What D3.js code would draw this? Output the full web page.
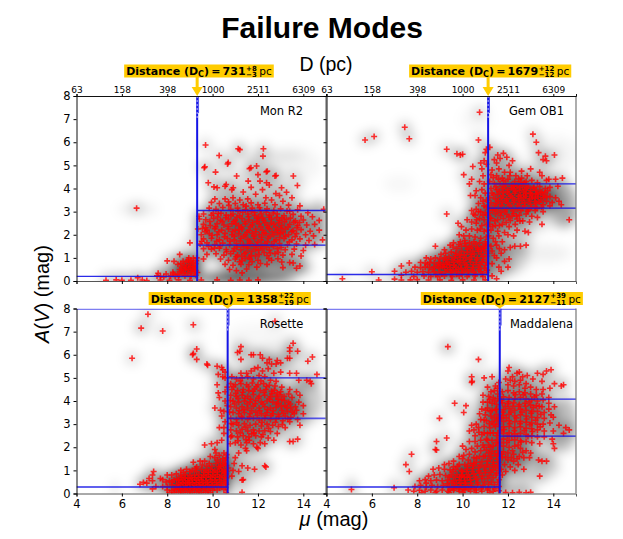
<!DOCTYPE html>
<html>
<head>
<meta charset="utf-8">
<script src="https://d3js.org/d3.v7.min.js"></script>
<style>
body { margin: 0; background: #fff; }
svg text { font-family: "DejaVu Sans", sans-serif; fill: #000; }
.big { font-family: "Liberation Sans", sans-serif !important; }
</style>
</head>
<body>
<div id="chart"></div>
<script>
var regions = ["Mon R2", "Gem OB1", "Rosette", "Maddalena"];
var distances = [731, 1679, 1358, 2127];
var errUp = ["+8", "+12", "+22", "+39"];
var errDown = ["\u22123", "\u221212", "\u221219", "\u221211"];
var leftLevels = [0.2, 0.28, 0.28, 0.28];
var rightLow = [1.55, 3.15, 3.25, 2.48];
var rightHigh = [3.05, 4.2, 5.0, 4.08];
var muTicks = [4, 6, 8, 10, 12, 14];
var muLabels = ["4", "6", "8", "10", "12", "14"];
var distLabels = ["63", "158", "398", "1000", "2511", "6309"];
var avTicks = [0, 1, 2, 3, 4, 5, 6, 7, 8];

var monR2 = [[6.65,3.15],[9.4,2.8],[9.42,2.68],[9.35,2.25],[9.55,2.27],[9.7,2.3],[9.0,1.65],[8.55,1.15],[8.0,.87],[8.3,.85],
[9.69,5.88],[10.29,5.43],[10.69,5.12],[10.66,5.06],[11.13,5.72],[11.2,5.68],[12.24,5.72],[12.22,5.4],[9.66,4.94],[9.63,4.9],[10.13,4.71],[11.69,4.9],[11.63,4.86],[11.94,4.97],[12.41,4.75],[12.37,4.72],[12.0,4.6],[11.06,4.54],[9.81,4.25],[12.75,4.54],[12.8,4.56],[13.56,4.54],[10.6,4.17],[10.55,4.1],[10.06,4.07],[10.2,4.03],[10.91,4.03],[10.85,3.95],[11.57,4.32],[12.09,4.32],[12.38,4.25],[12.5,4.15],[13.04,4.03],[13.74,4.13],[13.26,3.84],[12.79,3.78],[12.95,3.7],[11.7,4.05],[12.2,3.95],[11.35,3.85],[
11.9,3.75],[10.9,3.6],[10.1,3.55],[10.55,3.55],[11.2,3.5],[11.55,3.55],[12.35,3.6],[12.6,3.5],[13.5,3.6],[13.1,3.45],[
9.95,3.4],[10.3,3.35],[10.7,3.42],[11.0,3.35],[11.35,3.3],[11.7,3.38],[12.0,3.3],[12.3,3.36],[12.75,3.3],[13.35,3.28],[13.85,3.25],[
9.85,3.15],[10.15,3.1],[10.45,3.18],[10.8,3.1],[11.1,3.15],[11.45,3.08],[11.75,3.15],[12.1,3.05],[12.4,3.12],[12.7,3.05],[13.0,3.12],[13.4,3.02],[13.75,3.08],[14.2,2.95],[14.9,3.1],[
9.6,2.9],[9.95,2.85],[10.25,2.92],[10.6,2.85],[10.9,2.9],[11.2,2.82],[11.55,2.9],[11.85,2.84],[12.15,2.9],[12.5,2.85],[12.85,2.9],[13.15,2.82],[13.55,2.88],[13.9,2.8],[14.4,2.78],[
9.7,2.65],[10.05,2.7],[10.35,2.62],[10.7,2.68],[11.0,2.62],[11.3,2.7],[11.6,2.64],[11.95,2.7],[12.25,2.62],[12.6,2.68],[12.95,2.62],[13.25,2.66],[13.65,2.6],[14.0,2.64],[14.7,2.62],[
9.6,2.45],[9.9,2.4],[10.2,2.48],[10.5,2.42],[10.85,2.47],[11.15,2.4],[11.45,2.47],[11.75,2.42],[12.05,2.48],[12.4,2.41],[12.7,2.46],[13.05,2.4],[13.4,2.45],[13.75,2.4],[14.15,2.42],[14.5,2.45],[
9.75,2.2],[10.1,2.26],[10.4,2.2],[10.7,2.25],[11.0,2.2],[11.3,2.25],[11.6,2.19],[11.9,2.25],[12.2,2.2],[12.5,2.26],[12.85,2.2],[13.2,2.25],[13.55,2.18],[13.9,2.22],[14.3,2.15],[14.7,2.2],[
9.5,2.0],[9.85,2.05],[10.2,2.0],[10.55,2.06],[10.85,2.0],[11.15,2.05],[11.45,2.0],[11.75,2.06],[12.05,2.0],[12.35,2.05],[12.7,2.0],[13.0,2.05],[13.35,2.0],[13.7,2.05],[14.1,2.0],[14.45,1.95],[14.85,1.78],[
9.6,1.82],[9.95,1.85],[10.3,1.78],[10.65,1.84],[10.95,1.78],[11.25,1.85],[11.55,1.8],[11.85,1.84],[12.15,1.78],[12.45,1.85],[12.8,1.78],[13.15,1.84],[13.5,1.78],[13.85,1.82],[14.25,1.75],[
9.45,1.6],[9.75,1.65],[10.1,1.58],[10.45,1.64],[10.75,1.58],[11.05,1.62],[11.35,1.58],[11.65,1.63],[11.95,1.56],[12.3,1.62],[12.6,1.58],[12.95,1.62],[13.3,1.57],[13.7,1.6],[14.1,1.55],[14.5,1.58],[
9.6,1.4],[9.95,1.38],[10.3,1.42],[10.6,1.36],[10.95,1.4],[11.25,1.35],[11.55,1.42],[11.9,1.36],[12.2,1.4],[12.5,1.34],[12.85,1.4],[13.2,1.35],[13.6,1.38],[14.0,1.32],[
9.75,1.15],[10.15,1.18],[10.5,1.12],[10.8,1.18],[11.1,1.12],[11.4,1.18],[11.7,1.1],[12.05,1.15],[12.4,1.1],[12.75,1.18],[13.1,1.12],[13.5,1.15],[13.9,1.08],[
9.6,.95],[10.35,.95],[10.7,.9],[11.0,.95],[11.3,.88],[11.65,.95],[12.0,.9],[12.6,.9],[13.05,.82],[13.4,.8],[13.55,.78],[
10.55,.72],[10.9,.68],[11.25,.72],[11.6,.7],[11.95,.6],[12.4,.72],[13.1,.58],[
10.75,.5],[11.05,.45],[11.3,.35],[11.5,.52],[13.7,.55],[13.85,.65],[
8.25,.38],[8.45,.3],[8.7,.35],[8.8,.48],[8.9,.32],[9.05,.4],[8.55,.5],[8.35,.2],[8.15,.22],[7.95,.3],[7.6,.33],[7.55,.22],[7.7,.2],[7.85,.18],[8.6,.75],[8.75,.65],[8.85,.82],[8.95,.7],[9.05,.85],[9.15,.62],[9.25,.75],[8.95,.52],[9.1,.5],[9.25,.45],[9.15,.98],[9.3,1.0],[9.25,.25],[9.05,.22],[9.2,.32],[8.65,.58],[8.7,.85],[8.95,1.0],
[5.3,.03],[5.75,.05],[6.0,.03],[6.4,.03],[6.7,.14],[6.9,.04],[7.1,.02],[7.7,.04],[8.1,.03],[8.5,.05],[9.0,.03],[9.5,.04],[10.2,.05],[10.8,.03],[11.2,.04],[11.6,.03],[12.0,.05]];

var monCore = [[10.37,2.93],[10.72,3.27],[10.93,2.57],[11.07,2.76],[11.12,3.02],[11.27,2.33],[11.33,2.97],[11.38,1.93],[11.42,2.56],[11.48,3.24],[11.52,2.11],[11.58,2.78],[11.63,1.72],[11.66,2.35],[11.71,3.01],[11.77,2.53],[11.82,1.94],[11.86,2.96],[11.91,2.13],[11.96,2.58],[11.99,1.68],[12.03,2.77],[12.07,3.17],[12.12,2.34],[12.17,1.89],[12.21,2.72],[12.26,2.08],[12.31,2.53],[12.36,2.97],[12.41,1.69],[12.44,2.31],[12.49,2.76],[12.53,1.93],[12.58,2.51],[12.63,2.13],[12.67,2.94],[12.72,1.71],[12.77,2.33],[12.82,2.74],[12.87,2.09],[12.91,2.52],[12.96,1.88],[13.01,2.28],[13.06,2.73],[13.11,2.11],[13.17,2.56],[13.22,1.94],[13.28,3.03],[13.33,2.33],[13.38,1.69],[13.43,2.72],[13.49,2.13],[13.58,2.54],[13.64,1.92],[13.72,2.31],[13.83,2.53],[10.27,2.13],[10.33,1.52],[10.43,2.57],[10.52,1.91],[10.58,2.74],[10.62,1.27],[10.68,2.36],[10.77,1.72],[10.81,2.84],[10.88,2.14],[10.92,1.29],[10.97,1.94],[11.03,2.48],[11.08,1.47],[11.17,2.23],[11.22,1.73],[11.29,1.06],[11.37,1.49],[11.47,1.23],[11.53,1.53],[11.62,1.04],[11.72,1.28],[11.81,1.51],[11.89,1.08],[12.02,1.33],[12.13,1.5],[12.27,1.23],[12.38,1.47],[12.55,1.21],[12.68,1.49],[12.9,1.24],[13.02,1.45],[9.52,1.72],[9.67,2.13],[9.82,1.49],[9.88,2.57],[9.98,1.98],[10.03,2.93],[10.08,1.42],[10.13,2.34],[10.18,1.72],[10.22,2.77],[11.04,1.05],[11.19,.83],[11.44,.97],[11.74,.83],[12.11,.76],[12.48,.97],[12.88,.96],[8.47,.72],[8.62,.42],[8.82,.58],[9.02,.63],[9.12,.79],[9.22,.57],[8.92,.91],[8.78,.23],[8.52,.26],[8.28,.3],[9.33,.37],[9.28,.88]];

var gemOB1 = [[5.7,6.1],[6.1,6.25],[7.45,6.65],[7.65,6.15],[10.75,7.3],[10.7,6.1],[9.3,5.7],[9.75,5.5],[9.9,5.45],[10.0,5.48],[11.05,5.7],[11.2,5.78],[11.0,5.55],[10.45,4.95],[10.05,4.6],[9.3,2.9],[10.3,4.2],[10.4,4.4],[10.8,5.1],[10.95,5.2],[11.05,5.05],[10.85,4.85],[
11.55,5.45],[11.8,5.52],[11.65,5.3],[11.95,5.35],[12.2,5.2],[11.5,5.1],[12.05,5.0],[11.4,5.25],[12.6,4.75],[13.1,6.35],[13.25,6.0],[13.35,5.55],[13.55,5.25],[13.65,5.4],[13.7,5.2],[14.05,5.45],[13.0,4.85],[13.4,4.7],[13.5,4.55],[13.8,4.4],[14.1,4.4],[14.4,4.45],[13.7,4.35],[14.2,4.1],[14.7,2.65],[14.35,3.3],[13.5,2.45],[13.2,3.2],[
11.3,4.8],[11.6,4.85],[11.85,4.7],[12.1,4.7],[12.35,4.55],[12.6,4.45],[12.85,4.55],[11.25,4.6],[11.5,4.55],[11.75,4.45],[12.0,4.4],[12.3,4.3],[12.55,4.28],[12.8,4.3],[13.05,4.35],[13.3,4.25],[
11.2,4.3],[11.4,4.22],[11.65,4.2],[11.9,4.18],[12.15,4.15],[12.4,4.1],[12.65,4.12],[12.9,4.1],[13.15,4.05],[13.4,4.08],[13.65,4.0],[13.85,4.05],[
11.25,4.0],[11.5,3.95],[11.75,4.0],[12.0,3.95],[12.25,3.98],[12.5,3.92],[12.75,3.95],[13.0,3.9],[13.25,3.92],[13.5,3.85],[13.75,3.9],[
11.3,3.8],[11.55,3.75],[11.8,3.82],[12.05,3.75],[12.3,3.8],[12.55,3.72],[12.8,3.78],[13.05,3.72],[13.3,3.76],[13.55,3.7],[13.85,3.65],[14.1,3.6],[
11.2,3.6],[11.45,3.55],[11.7,3.6],[11.95,3.55],[12.2,3.6],[12.45,3.55],[12.7,3.6],[12.95,3.55],[13.2,3.58],[13.45,3.5],[13.7,3.45],[13.95,3.4],[14.25,3.45],[
11.25,3.38],[11.5,3.35],[11.75,3.4],[12.0,3.36],[12.25,3.4],[12.5,3.35],[12.75,3.38],[13.0,3.32],[13.25,3.36],[13.55,3.3],[13.85,3.25],[
11.2,3.18],[11.4,3.1],[11.65,3.16],[11.9,3.1],[12.15,3.18],[12.4,3.1],[12.65,3.16],[12.9,3.08],[13.2,3.05],[13.55,3.0],[
11.2,2.95],[11.45,2.9],[11.7,2.95],[11.95,2.88],[12.25,2.92],[12.5,2.85],[12.8,2.9],[13.05,2.8],[13.3,2.75],[
11.25,2.7],[11.55,2.65],[11.8,2.7],[12.1,2.62],[12.4,2.68],[12.65,2.6],[12.95,2.55],[
11.2,2.45],[11.45,2.4],[11.75,2.45],[12.05,2.35],[12.4,2.2],[12.75,2.15],[12.9,2.1],[
11.25,2.2],[11.55,2.15],[11.85,2.1],[12.0,2.0],[12.25,1.95],[
10.9,4.55],[10.75,4.3],[10.95,4.2],[10.6,3.9],[10.85,3.95],[11.0,3.8],[10.55,3.7],[10.8,3.6],[11.05,3.5],[10.35,3.7],[10.7,3.35],[10.95,3.25],[10.4,3.05],[10.6,3.1],[10.8,3.0],[11.0,2.95],[10.55,2.85],[10.75,2.7],[10.95,2.65],[10.2,2.65],[10.4,2.55],[10.6,2.5],[10.85,2.4],[11.05,2.45],[9.95,2.35],[10.15,2.2],[10.4,2.25],[10.65,2.2],[10.95,2.15],[9.8,2.5],[9.85,2.0],[10.05,1.95],[10.3,1.95],[10.55,1.9],[10.8,1.85],[11.05,1.9],[
9.2,1.35],[9.45,1.55],[9.6,1.65],[9.75,1.4],[9.9,1.7],[10.1,1.75],[10.3,1.65],[10.5,1.7],[10.75,1.65],[11.0,1.7],[9.95,1.5],[10.15,1.5],[10.4,1.5],[10.65,1.45],[10.9,1.5],[11.1,1.55],[
8.8,1.5],[9.05,1.15],[9.25,1.2],[9.5,1.25],[9.7,1.2],[9.95,1.28],[10.2,1.25],[10.45,1.3],[10.7,1.28],[10.95,1.3],[11.1,1.2],[
8.4,1.0],[8.6,.95],[8.8,1.0],[9.0,.95],[9.2,1.0],[9.4,1.05],[9.65,1.0],[9.9,1.02],[10.15,1.0],[10.4,1.05],[10.65,1.0],[10.9,1.05],[
8.15,.8],[8.35,.78],[8.55,.8],[8.75,.78],[8.95,.8],[9.15,.78],[9.35,.82],[9.6,.8],[9.85,.82],[10.1,.78],[10.35,.82],[10.6,.8],[10.85,.82],[11.05,.8],[
7.3,.65],[7.65,.78],[7.9,.6],[8.15,.58],[8.35,.6],[8.55,.58],[8.75,.6],[8.95,.55],[9.2,.6],[9.45,.58],[9.7,.6],[9.95,.55],[10.2,.6],[10.45,.58],[10.7,.6],[10.95,.55],[
7.0,.42],[7.5,.38],[7.75,.42],[8.0,.38],[8.25,.4],[8.5,.38],[8.75,.4],[9.0,.38],[9.25,.4],[9.5,.38],[9.75,.4],[10.0,.38],[10.25,.4],[10.5,.38],[10.8,.4],[11.05,.38],[
6.0,.4],[7.3,.25],[7.85,.2],[8.3,.22],[8.6,.2],[8.9,.2],[9.2,.22],[9.55,.2],[9.85,.22],[10.2,.2],[10.55,.22],[10.9,.2],[11.3,.22],[11.5,.1],[11.7,.42],[
4.7,.1],[6.3,.04],[7.0,.08],[7.3,.04],[7.7,.05],[8.0,.06],[8.5,.04],[9.0,.05],[9.5,.03],[10.0,.05],[10.5,.04],[11.0,.05],[11.6,.6],[11.85,.85],[12.05,.95],[11.3,.75],[11.5,1.0],[11.7,1.2],[11.85,1.35],[12.1,1.45],[12.3,1.5],[12.55,1.5],[12.8,1.55],[11.3,1.3],[11.5,1.55],[11.75,1.7],[11.35,1.85],[11.6,1.95],[12.0,.6]];

var gemCore = [[11.32,3.06],[11.37,3.72],[11.42,3.27],[11.47,4.07],[11.53,3.03],[11.57,3.47],[11.62,3.87],[11.67,2.83],[11.72,3.27],[11.77,3.68],[11.83,4.08],[11.87,3.02],[11.92,3.47],[11.97,3.86],[12.03,2.77],[12.07,3.27],[12.12,3.67],[12.17,4.03],[12.22,3.03],[12.28,3.48],[12.33,3.88],[12.37,2.81],[12.43,3.26],[12.48,3.67],[12.53,4.03],[12.57,3.04],[12.62,3.47],[12.68,3.85],[12.73,3.25],[12.78,3.66],[12.83,4.02],[12.87,3.02],[12.93,3.46],[12.98,3.8],[13.03,3.18],[13.08,3.63],[13.12,4.02],[13.18,3.44],[13.23,3.78],[13.28,3.14],[13.33,3.63],[13.38,3.42],[13.43,3.83],[13.48,3.19],[13.58,3.6],[13.63,3.82],[13.72,3.65],[11.35,4.47],[11.58,4.4],[11.81,4.33],[12.08,4.55],[12.28,4.12],[12.47,4.41],[12.72,4.25],[11.22,2.72],[11.33,2.36],[11.42,2.6],[11.62,2.4],[11.92,2.53],[12.18,2.81],[12.32,2.45],[12.53,2.6],[11.15,1.95],[11.25,1.5],[11.4,1.1],[11.45,1.7],[11.62,1.4],[
9.12,.62],[9.27,.93],[9.33,.48],[9.42,.71],[9.48,.28],[9.53,.92],[9.58,.47],[9.63,.68],[9.68,1.1],[9.73,.29],[9.78,.87],[9.82,.51],[9.87,1.13],[9.92,.69],[9.97,.3],[10.03,.9],[10.07,1.13],[10.12,.48],[10.17,.7],[10.22,1.37],[10.27,.28],[10.32,.93],[10.37,1.15],[10.42,.48],[10.47,.7],[10.52,1.17],[10.57,.3],[10.62,.92],[10.67,1.38],[10.72,.49],[10.77,.71],[10.82,1.17],[10.87,.3],[10.92,.93],[10.97,1.42],[11.02,.68],[11.06,1.08],[11.08,.47],[11.03,1.6],[10.82,1.38],[10.57,1.6],[10.34,1.42],[10.1,1.62],[9.83,1.58],[9.58,1.47],[9.3,.72],[8.9,.68],[8.68,.5],[8.45,.72],[8.82,.28],[9.08,.3],[9.02,.7],[11.08,2.2],[10.9,2.85],[10.7,3.0],[10.48,2.9],[10.9,3.45],[10.62,2.65],[11.08,2.85],[11.05,3.2],[10.78,2.25]];

var rosette = [[7.15,7.75],[6.85,7.15],[7.8,7.03],[9.15,7.3],[6.45,5.85],[9.15,6.05],[9.12,6.0],[9.3,6.25],[9.3,5.8],[9.75,5.6],[9.78,5.55],[12.75,7.45],[13.55,6.5],[13.4,6.3],[13.75,6.15],[13.4,6.15],[14.4,5.9],[14.2,5.72],[13.4,5.85],[13.3,5.85],[11.25,6.35],[11.2,6.15],[11.1,6.1],[11.25,5.8],[11.7,6.0],[11.8,6.0],[12.1,6.0],[12.2,5.85],[12.4,5.65],[12.6,5.6],[12.8,5.6],[12.85,5.75],[13.0,5.65],[12.5,5.8],[
10.2,5.5],[10.4,5.45],[10.45,5.35],[10.55,5.25],[10.25,5.15],[10.45,5.05],[10.55,5.0],[11.25,5.2],[11.5,5.2],[11.7,5.3],[11.85,5.4],[12.0,5.45],[12.2,5.3],[12.45,5.4],[12.7,5.2],[13.0,5.25],[13.4,5.2],[13.7,5.2],[14.6,5.15],[14.15,4.9],[14.3,4.85],[14.35,4.75],[13.8,4.9],[
10.2,4.7],[10.25,4.35],[10.3,4.15],[10.55,4.4],[10.65,4.6],[10.1,3.7],[10.35,3.6],[10.5,3.55],[10.4,3.35],[10.65,3.8],[10.55,4.0],[10.3,2.85],[10.5,2.85],[10.55,3.1],[10.5,2.6],[9.65,2.1],[9.95,2.15],[10.2,2.2],[10.1,1.9],[10.15,1.75],[10.4,2.3],[
10.85,5.05],[11.05,4.95],[11.3,5.0],[11.55,5.05],[11.8,4.95],[12.05,5.1],[12.3,5.05],[12.55,4.9],[12.8,4.85],[13.05,4.6],[13.4,4.5],[13.7,4.4],[13.85,4.25],[
10.8,4.75],[11.0,4.7],[11.25,4.75],[11.5,4.7],[11.75,4.78],[12.0,4.7],[12.25,4.75],[12.5,4.68],[12.75,4.65],[13.0,4.4],[13.35,4.3],[
10.85,4.5],[11.1,4.45],[11.35,4.5],[11.6,4.45],[11.85,4.52],[12.1,4.45],[12.35,4.5],[12.6,4.42],[12.85,4.35],[13.15,4.2],[13.5,4.15],[13.8,3.95],[14.0,3.8],
[10.8,4.25],[11.05,4.2],[11.3,4.25],[11.55,4.2],[11.8,4.28],[12.05,4.2],[12.3,4.25],[12.55,4.18],[12.8,4.2],[13.05,4.05],[13.35,3.95],[13.65,3.75],[
10.9,4.0],[11.15,3.95],[11.4,4.0],[11.65,3.95],[11.9,4.02],[12.15,3.95],[12.4,4.0],[12.65,3.95],[12.9,3.9],[13.2,3.8],[13.45,3.7],[13.7,3.6],[
10.8,3.75],[11.05,3.7],[11.3,3.75],[11.55,3.7],[11.8,3.78],[12.05,3.7],[12.3,3.75],[12.55,3.7],[12.8,3.72],[13.05,3.6],[13.3,3.55],[13.6,3.45],[14.0,3.45],[
10.9,3.5],[11.15,3.45],[11.4,3.5],[11.65,3.45],[11.9,3.52],[12.15,3.45],[12.4,3.5],[12.65,3.45],[12.9,3.42],[13.2,3.35],[13.45,3.3],[13.75,3.2],[
10.8,3.25],[11.05,3.2],[11.3,3.28],[11.55,3.2],[11.8,3.25],[12.05,3.18],[12.3,3.25],[12.55,3.2],[12.8,3.22],[13.1,3.15],[13.4,3.1],[13.85,2.95],[
10.9,3.0],[11.15,2.95],[11.4,3.02],[11.65,2.95],[11.9,3.0],[12.15,2.92],[12.4,3.0],[12.65,2.95],[12.9,2.9],[13.2,2.85],[
10.8,2.75],[11.05,2.7],[11.3,2.78],[11.55,2.7],[11.8,2.75],[12.05,2.7],[12.3,2.72],[12.55,2.68],[12.85,2.6],[13.4,2.25],[13.55,2.25],[13.75,2.35],[
10.85,2.5],[11.1,2.45],[11.35,2.5],[11.6,2.45],[11.9,2.5],[12.15,2.45],[12.45,2.4],[12.7,2.3],[
11.0,2.2],[11.25,2.1],[11.5,2.2],[11.8,2.15],[12.1,2.2],[12.3,2.15],[11.45,1.95],[11.5,1.85],[11.95,2.0],[12.0,1.95],[11.15,1.75],[11.0,1.55],[
9.3,1.15],[9.15,1.35],[9.45,1.4],[9.65,1.4],[9.85,1.3],[9.9,1.6],[10.1,1.55],[10.3,1.65],[10.5,1.75],[10.45,1.5],[10.6,1.55],[10.15,1.3],[10.35,1.35],[10.55,1.3],[11.3,1.2],[11.55,1.1],[11.85,1.05],[12.3,1.2],[12.35,1.15],[11.35,.6],[11.3,.58],[10.95,1.3],[10.9,1.0],[11.15,.95],[10.85,.75],[
8.6,1.0],[8.85,1.05],[9.1,1.0],[9.3,.95],[9.5,1.05],[9.7,1.0],[9.9,1.05],[10.1,1.0],[10.3,1.08],[10.5,1.02],[10.7,1.1],[
7.4,.95],[7.35,.8],[7.2,.65],[7.7,.65],[7.8,.6],[8.0,.8],[8.2,.8],[8.4,.85],[8.6,.78],[8.8,.82],[9.0,.78],[9.2,.8],[9.4,.82],[9.6,.78],[9.8,.82],[10.0,.78],[10.2,.82],[10.4,.78],[10.6,.85],[
6.8,.4],[6.95,.48],[7.1,.45],[7.35,.55],[7.5,.3],[7.95,.5],[8.1,.55],[8.3,.6],[8.5,.58],[8.7,.6],[8.9,.55],[9.1,.6],[9.3,.58],[9.5,.6],[9.7,.55],[9.9,.6],[10.1,.58],[10.3,.6],[10.5,.55],[
7.35,.2],[7.8,.3],[8.0,.3],[8.2,.38],[8.4,.35],[8.6,.38],[8.8,.35],[9.0,.38],[9.2,.35],[9.4,.38],[9.6,.35],[9.8,.38],[10.0,.35],[10.2,.38],[10.4,.35],[10.6,.4],[
8.0,.15],[8.2,.12],[8.4,.18],[8.6,.12],[8.8,.16],[9.0,.12],[9.2,.16],[9.4,.12],[9.6,.16],[9.8,.12],[10.0,.14],[10.2,.15],[10.5,.18],[11.3,.05],[10.6,.03],
[8.1,.04],[8.3,.03],[8.5,.05],[8.7,.03],[8.9,.05],[9.1,.03],[9.3,.05],[9.5,.03],[9.7,.05],[9.9,.03]];

var rosCore = [[10.92,4.62],[10.97,3.87],[11.02,4.33],[11.07,3.07],[11.12,4.11],[11.18,3.58],[11.22,4.87],[11.27,3.33],[11.33,4.38],[11.38,3.62],[11.43,4.12],[11.47,2.87],[11.52,3.87],[11.58,4.62],[11.62,3.33],[11.68,4.08],[11.72,3.59],[11.78,4.42],[11.83,2.62],[11.88,3.88],[11.93,4.62],[11.97,3.37],[12.02,4.12],[12.08,3.58],[12.13,4.87],[12.18,3.08],[12.22,3.87],[12.27,4.37],[12.33,3.37],[12.38,4.63],[12.42,3.62],[12.47,2.82],[12.52,4.08],[12.58,3.37],[12.62,4.32],[12.67,3.58],[12.72,4.47],[12.77,3.08],[12.82,3.87],[12.88,4.08],[12.93,3.33],[12.97,4.27],[13.02,3.78],[13.07,2.98],[13.12,3.47],[13.17,4.02],[13.27,3.72],[13.32,3.22],[13.52,3.52],[13.42,3.87],[10.78,4.02],[10.75,3.52],[10.82,3.02],[10.8,2.45],[10.78,2.15],[11.22,2.62],[11.47,2.33],[11.72,2.58],[12.22,2.55],[11.12,2.28],[11.62,2.3],[
8.22,.5],[8.32,.17],[8.42,.62],[8.47,.28],[8.52,.45],[8.58,.22],[8.62,.7],[8.67,.48],[8.72,.2],[8.77,.68],[8.82,.45],[8.87,.25],[8.92,.66],[8.97,.48],[9.02,.22],[9.07,.68],[9.12,.46],[9.17,.25],[9.22,.69],[9.27,.47],[9.32,.22],[9.37,.68],[9.42,.47],[9.47,.25],[9.52,.7],[9.57,.47],[9.62,.92],[9.67,.24],[9.72,.7],[9.77,.47],[9.82,.92],[9.87,.24],[9.92,.72],[9.97,.48],[10.02,.93],[10.07,.26],[10.12,.7],[10.17,.47],[10.22,.93],[10.27,1.15],[10.32,.72],[10.37,.47],[10.42,.96],[10.47,1.23],[10.52,.68],[10.57,.26],[10.58,.47],[10.62,.95],[10.6,1.22],[10.55,1.42],[10.62,.68],[10.62,1.68],[10.32,.24],[10.55,.9],[10.35,1.18],[10.22,1.45],[9.97,1.18],[9.75,1.18],[9.55,1.23],[9.25,1.08],[9.0,.95],[8.72,.92]];

var maddalena = [[9.35,6.35],[8.98,3.25],[10.7,5.8],[9.65,3.9],[10.15,3.8],[10.05,3.5],[10.4,5.05],[10.42,4.85],[10.4,4.8],[9.3,2.4],[8.85,2.25],[8.8,1.9],[8.85,1.88],[7.5,1.25],[7.75,1.7],[7.65,.95],[5.1,.17],[6.98,.25],[8.4,.45],
[11.3,5.05],[11.45,4.65],[11.1,4.6],[10.95,5.0],[11.6,4.8],[12.05,5.45],[12.5,5.25],[12.0,5.3],[12.4,5.2],[12.65,5.05],[12.85,5.1],[13.3,5.2],[13.7,5.3],[13.9,5.35],[13.55,5.15],[12.2,5.05],[13.1,4.95],[13.5,4.85],[14.05,4.75],[14.35,4.65],[14.45,4.7],[
11.9,4.95],[12.1,4.9],[12.3,4.85],[12.55,4.9],[12.8,4.75],[12.0,4.7],[12.25,4.65],[12.5,4.7],[12.75,4.55],[13.0,4.6],[13.25,4.5],[13.55,4.5],[13.85,4.55],[
11.25,4.4],[11.4,4.45],[11.55,4.3],[11.75,4.4],[12.0,4.45],[12.25,4.35],[12.5,4.4],[12.75,4.35],[13.0,4.3],[13.25,4.25],[13.5,4.3],[13.8,4.15],[
10.9,4.25],[11.15,4.2],[11.35,4.15],[11.55,4.1],[11.8,4.18],[12.05,4.15],[12.3,4.1],[12.55,4.15],[12.8,4.1],[13.05,4.05],[13.3,4.0],[13.55,4.05],[13.8,3.9],[14.05,3.75],[
10.9,3.95],[11.1,3.95],[11.3,3.9],[11.5,3.85],[11.75,3.92],[12.0,3.88],[12.25,3.92],[12.5,3.85],[12.75,3.9],[13.0,3.82],[13.25,3.8],[13.5,3.75],[13.8,3.65],[
10.85,3.65],[11.1,3.7],[11.3,3.6],[11.5,3.65],[11.8,3.62],[12.05,3.68],[12.3,3.6],[12.55,3.65],[12.8,3.6],[13.05,3.55],[13.3,3.55],[13.6,3.5],[13.9,3.4],[
10.75,3.45],[11.0,3.4],[11.25,3.35],[11.5,3.42],[11.8,3.38],[12.05,3.42],[12.3,3.35],[12.55,3.4],[12.8,3.35],[13.05,3.3],[13.3,3.28],[13.6,3.25],[14.0,3.3],[
10.4,2.95],[10.6,3.0],[10.8,3.2],[11.05,3.15],[11.3,3.1],[11.5,3.15],[11.8,3.12],[12.05,3.15],[12.3,3.1],[12.55,3.12],[12.8,3.08],[13.05,3.05],[13.3,3.0],[13.55,3.0],[13.85,3.05],[14.25,2.95],[14.55,2.85],[14.7,2.75],[
10.3,2.7],[10.5,2.75],[10.7,2.85],[10.95,2.9],[11.2,2.85],[11.45,2.9],[11.8,2.88],[12.05,2.9],[12.3,2.85],[12.55,2.88],[12.8,2.82],[13.05,2.8],[13.3,2.75],[13.6,2.7],[14.0,2.7],[14.45,2.6],[
10.55,2.5],[10.85,2.55],[11.1,2.6],[11.35,2.62],[11.5,2.5],[11.8,2.6],[12.05,2.62],[12.3,2.58],[12.55,2.6],[12.8,2.55],[13.05,2.5],[13.3,2.45],[13.6,2.45],[13.95,2.35],[
10.0,2.05],[10.3,2.25],[10.55,2.25],[10.8,2.3],[11.05,2.35],[11.3,2.3],[11.55,2.32],[11.8,2.35],[12.05,2.3],[12.3,2.32],[12.55,2.28],[12.8,2.25],[13.05,2.2],[13.4,2.15],[14.05,1.95],[14.0,2.15],[
10.15,1.9],[10.4,1.95],[10.65,2.05],[10.9,2.1],[11.15,2.1],[11.35,2.05],[11.55,2.1],[11.8,2.05],[12.05,2.0],[12.3,2.05],[12.55,1.95],[12.8,1.85],[13.0,1.75],[13.35,1.45],[13.5,1.4],[13.7,1.4],[13.4,.75],
[10.05,1.65],[10.3,1.7],[10.55,1.8],[10.8,1.85],[11.05,1.88],[11.3,1.82],[11.55,1.85],[11.8,1.8],[12.0,1.75],[12.25,1.7],[12.5,1.6],[12.7,1.55],[12.95,1.55],[
9.6,1.4],[9.85,1.6],[10.0,1.5],[10.25,1.45],[10.5,1.55],[10.75,1.6],[11.0,1.62],[11.25,1.6],[11.5,1.62],[11.75,1.55],[12.0,1.45],[12.25,1.4],[12.45,1.25],[12.7,1.05],[
9.2,1.25],[9.4,1.3],[9.6,1.15],[9.85,1.25],[10.1,1.25],[10.35,1.3],[10.6,1.35],[10.85,1.38],[11.1,1.4],[11.35,1.35],[11.6,1.35],[11.85,1.25],[12.1,1.15],[12.3,1.0],[
8.7,1.05],[8.95,1.1],[9.2,1.05],[9.45,1.02],[9.7,1.05],[9.95,1.0],[10.2,1.05],[10.45,1.08],[10.7,1.12],[10.95,1.15],[11.2,1.15],[11.45,1.12],[11.7,1.05],[11.9,.95],[
8.5,.75],[8.75,.8],[9.0,.82],[9.25,.78],[9.5,.8],[9.75,.82],[10.0,.8],[10.25,.82],[10.5,.85],[10.75,.88],[11.0,.9],[11.25,.92],[11.5,.88],[11.75,.8],[
8.1,.55],[8.35,.6],[8.6,.55],[8.85,.58],[9.1,.55],[9.35,.58],[9.6,.55],[9.85,.58],[10.1,.55],[10.35,.58],[10.6,.62],[10.85,.65],[11.1,.65],[11.35,.68],[11.6,.6],[
7.9,.3],[8.15,.35],[8.4,.28],[8.65,.35],[8.9,.3],[9.15,.35],[9.4,.3],[9.65,.35],[9.9,.32],[10.15,.36],[10.4,.32],[10.65,.38],[10.9,.35],[11.15,.4],[11.4,.38],[11.6,.3],[
7.6,.15],[7.85,.1],[8.1,.14],[8.35,.1],[8.6,.15],[8.85,.1],[9.1,.15],[9.35,.1],[9.6,.14],[9.85,.1],[10.1,.15],[10.35,.1],[10.6,.15],[10.85,.1],[11.1,.15],[11.35,.1],[11.6,.12],[
11.9,.04],[12.2,.03],[12.5,.05],[12.8,.03],[13.0,.05],[8.2,.03],[8.8,.03],[9.4,.03],[10.0,.03],[10.6,.03],[11.2,.03]];

var madCore = [[11.72,4.02],[11.77,3.52],[11.83,2.77],[11.88,3.77],[11.93,3.27],[11.97,2.48],[12.02,3.97],[12.08,3.02],[12.13,3.52],[12.17,2.47],[12.22,3.77],[12.28,2.72],[12.33,4.27],[12.37,3.27],[12.42,2.47],[12.47,3.77],[12.53,3.02],[12.58,2.23],[12.62,3.52],[12.68,4.27],[12.72,2.72],[12.77,3.77],[12.82,3.22],[12.88,2.47],[12.93,3.97],[12.97,2.98],[13.02,3.47],[13.08,2.68],[13.12,3.72],[13.17,4.17],[13.22,3.17],[13.38,3.77],[13.42,2.88],[13.45,3.42],[11.68,2.72],[11.7,3.27],[11.68,2.2],[11.72,1.7],[11.95,2.2],[12.2,1.85],[12.45,2.1],[12.65,1.78],[11.9,1.58],[12.15,1.55],[12.4,1.5],[
11.58,3.25],[11.45,3.62],[11.38,2.98],[11.4,3.28],[11.22,3.55],[11.18,3.02],[11.02,3.6],[10.95,3.18],[11.55,4.55],[11.42,4.0],[11.2,4.07],[
9.32,.42],[9.42,.72],[9.47,.18],[9.52,.47],[9.58,.95],[9.63,.22],[9.68,.7],[9.73,.45],[9.78,1.18],[9.83,.2],[9.88,.7],[9.93,.45],[9.97,.95],[10.03,.18],[10.07,.7],[10.12,.45],[10.17,.95],[10.22,1.18],[10.27,.2],[10.32,.7],[10.37,.45],[10.42,.95],[10.47,1.2],[10.52,.2],[10.57,.72],[10.62,1.53],[10.67,.47],[10.72,.98],[10.77,1.22],[10.82,.2],[10.87,.75],[10.92,1.6],[10.97,.5],[11.02,1.0],[11.07,1.25],[11.12,.22],[11.17,.78],[11.22,1.52],[11.27,.5],[11.32,1.02],[11.37,1.25],[11.42,.2],[11.47,.8],[11.52,1.48],[11.55,.48],[11.6,1.0],[11.55,1.2],[11.58,1.72],[11.42,1.72],[11.15,1.75],[10.95,2.0],[11.22,2.0],[11.48,2.2],[11.55,2.62],[11.22,2.62],[10.95,2.62],[11.58,3.0],[11.1,2.3],[10.72,2.65],[10.5,1.3],[10.2,.7],[9.95,.75]];

var allPoints = [monR2.concat(monCore), gemOB1.concat(gemCore), rosette.concat(rosCore), maddalena.concat(madCore)];

// extra haze behind the points: [mu, Av, radius mu, radius Av, opacity]
var hazeMon = [[11.5,.1,2.2,.12,.9],[12.8,.6,1.6,.4,.3],[12.5,5.4,1.6,.25,.09],[14.6,2.5,.5,1.0,.2],[13.6,5,1.2,.8,.04],[6.7,3.1,.9,.25,.07],[5.3,.15,.1,.3,.12],[5.8,.15,.1,.3,.12],[6.3,.15,.1,.3,.12],[6.8,.15,.1,.3,.12],[10.5,.2,1,.25,.25]];
var hazeGem = [[14.4,3.3,.7,1.0,.3],[7.2,4.2,.7,.4,.03],[7.5,6.4,.3,.35,.08],[5.9,6.2,.4,.15,.07],[10.6,7,.7,.5,.03],[12,1,.9,.7,.18],[13.5,1.2,1.3,.4,.06],[14,5.5,1.2,.8,.04],[5.5,.2,.08,.3,.12]];
var hazeRos = [[14.1,4,.8,1,.2],[12,6.7,1.5,.7,.03],[6.9,7.2,.4,.25,.1],[9.3,7.2,.3,.25,.05],[5.7,.2,.08,.4,.2],[11.7,1,.7,.7,.08],[13,6,1,.5,.07]];
var hazeMad = [[14.5,3,.6,1.2,.25],[9.3,6.3,.35,.25,.14],[5.1,.3,.1,.45,.25],[7,.3,.08,.45,.18],[13,1.2,1.3,.7,.18],[12,.3,1,.25,.18]];
var allHaze = [hazeMon, hazeGem, hazeRos, hazeMad];

var cols = [76.5, 326.5], rows = [96, 308.5];
var panelW = 249.5, panelH = 185;

var svg = d3.select("#chart").append("svg").attr("width", 623).attr("height", 539);

var defs = svg.append("defs");
defs.append("filter").attr("id", "soft").attr("x", "-20%").attr("y", "-20%").attr("width", "140%").attr("height", "140%")
    .append("feGaussianBlur").attr("stdDeviation", 5.5);

svg.append("text").attr("class", "big").attr("x", 322).attr("y", 38).attr("text-anchor", "middle")
    .style("font-size", "30px").style("font-weight", "bold").text("Failure Modes");
svg.append("text").attr("class", "big").attr("x", 326).attr("y", 71).attr("text-anchor", "middle")
    .style("font-size", "19.5px").text("D (pc)");

var xLabel = svg.append("text").attr("class", "big").attr("x", 334).attr("y", 526).attr("text-anchor", "middle").style("font-size", "20px");
xLabel.append("tspan").style("font-style", "italic").text("\u03bc");
xLabel.append("tspan").text(" (mag)");
var yLabel = svg.append("text").attr("class", "big").attr("transform", "translate(49,294) rotate(-90)").attr("text-anchor", "middle").style("font-size", "20px");
yLabel.append("tspan").style("font-style", "italic").text("A");
yLabel.append("tspan").text("(");
yLabel.append("tspan").style("font-style", "italic").text("V");
yLabel.append("tspan").text(") (mag)");

var x = d3.scaleLinear().domain([4, 15]).range([0, panelW]);
var y = d3.scaleLinear().domain([0, 8]).range([panelH, 0]);

regions.forEach(function(name, i) {
    var col = i % 2, row = Math.floor(i / 2);
    var g = svg.append("g").attr("transform", "translate(" + cols[col] + "," + rows[row] + ")");
    var dc = 5 * Math.log10(distances[i]) - 5;

    defs.append("clipPath").attr("id", "clip" + i).append("rect").attr("width", panelW).attr("height", panelH);
    var plot = g.append("g").attr("clip-path", "url(#clip" + i + ")");

    var dens = plot.append("g").attr("filter", "url(#soft)");
    dens.selectAll("circle.p").data(allPoints[i]).enter().append("circle")
        .attr("class", "p")
        .attr("cx", function(d) { return x(d[0]); })
        .attr("cy", function(d) { return y(d[1]); })
        .attr("r", 6.5)
        .attr("fill", "#000")
        .attr("opacity", 0.14);
    dens.selectAll("ellipse").data(allHaze[i]).enter().append("ellipse")
        .attr("cx", function(d) { return x(d[0]); })
        .attr("cy", function(d) { return y(d[1]); })
        .attr("rx", function(d) { return x(4 + d[2]); })
        .attr("ry", function(d) { return panelH - y(d[3]); })
        .attr("fill", "#000")
        .attr("opacity", function(d) { return d[4]; });

    plot.selectAll("path.pt").data(allPoints[i]).enter().append("path")
        .attr("class", "pt")
        .attr("d", "M-3,0H3M0,-3V3")
        .attr("transform", function(d) { return "translate(" + x(d[0]) + "," + y(d[1]) + ")"; })
        .attr("stroke", "#ff0000")
        .attr("stroke-opacity", 0.8)
        .attr("stroke-width", 1.6)
        .attr("fill", "none");

    var blue = "#1414e6";
    function hline(a, b, v, w, op) {
        plot.append("line").attr("x1", x(a)).attr("x2", x(b)).attr("y1", y(v)).attr("y2", y(v))
            .attr("stroke", blue).attr("stroke-width", w).attr("stroke-opacity", op);
    }
    hline(4, dc, leftLevels[i], 1.4, 0.9);
    hline(dc, 15, rightLow[i], i == 2 ? 1.8 : 1.4, i == 2 ? 0.7 : 0.95);
    hline(dc, 15, rightHigh[i], 1.4, 0.9);
    if (row == 1) hline(4, 15, 7.97, 1.6, 0.55);

    plot.append("line").attr("x1", x(dc)).attr("x2", x(dc)).attr("y1", 0).attr("y2", panelH)
        .attr("stroke", blue).attr("stroke-width", 2);
    // spread of the walker traces at the top of the step
    plot.append("line").attr("x1", x(dc) + 1.4).attr("x2", x(dc) + 1.4).attr("y1", 0).attr("y2", 17)
        .attr("stroke", blue).attr("stroke-width", 1).attr("stroke-opacity", 0.7);
    plot.append("line").attr("x1", x(dc)).attr("x2", x(dc)).attr("y1", 0).attr("y2", 22)
        .attr("stroke", "#ffffff").attr("stroke-width", 0.7).attr("stroke-dasharray", "2,2");

    var bottom = g.append("g").attr("transform", "translate(0," + panelH + ")")
        .call(d3.axisBottom(x).tickValues(muTicks).tickSize(3).tickPadding(3)
            .tickFormat(function(d, k) { return row == 1 ? muLabels[k] : ""; }));
    var left = g.append("g")
        .call(d3.axisLeft(y).tickValues(avTicks).tickSize(3).tickPadding(3)
            .tickFormat(function(d) { return col == 0 ? d : ""; }));
    bottom.select(".domain").attr("stroke", "#555");
    left.select(".domain").attr("stroke", "#111");
    left.selectAll("text").style("font-size", "11.5px");
    bottom.selectAll("text").style("font-size", "11.5px");

    g.append("line").attr("x1", panelW).attr("x2", panelW).attr("y1", 0).attr("y2", panelH).attr("stroke", "#777").attr("stroke-width", 1.2);

    if (row == 0) {
        var top = g.append("g").call(d3.axisTop(x).tickValues(muTicks).tickSize(2).tickPadding(1)
            .tickFormat(function(d, k) { return distLabels[k]; }));
        top.selectAll("text").style("font-size", "9px");
        top.select(".domain").attr("stroke", "#111");
    }

    var nameX = [205, 210, 205, 215];
    g.append("text").attr("x", nameX[i]).attr("y", 19)
        .attr("text-anchor", "middle").style("font-size", "11.5px").text(name);

    // yellow label with an arrow pointing at the distance
    var yellow = "#ffcc00";
    var labelY = row == 0 ? -24 : -9;
    var lab = g.append("g").attr("transform", "translate(" + x(dc) + "," + labelY + ")");
    var boxX = [-73, -79, -79, -79][i];
    var box = lab.append("rect").attr("x", boxX).attr("y", -7.5).attr("height", 13).attr("fill", yellow);
    if (row == 0) {
        lab.append("path").attr("d", "M-1.5,5V15H-5.5L0,24L5.5,15H1.5V5Z").attr("fill", yellow);
    } else {
        lab.append("path").attr("d", "M-5,5.5H5L0,9Z").attr("fill", yellow);
    }
    var t = lab.append("text").attr("x", boxX + 2).attr("y", 3).style("font-size", "11px").style("font-weight", "bold");
    t.append("tspan").text("Distance (D");
    t.append("tspan").attr("dy", 2).style("font-size", "8px").text("C");
    t.append("tspan").attr("dy", -2).text(")\u2009=\u2009" + distances[i]);
    var sx = boxX + 2.5 + t.node().getComputedTextLength();
    var up = lab.append("text").attr("x", sx).attr("y", -1.4).style("font-size", "7px").style("font-weight", "bold").text(errUp[i]);
    lab.append("text").attr("x", sx).attr("y", 5.2).style("font-size", "7px").style("font-weight", "bold").text(errDown[i]);
    var px = sx + up.node().getComputedTextLength() + 2.5;
    var pc = lab.append("text").attr("x", px).attr("y", 3).style("font-size", "10.5px").text("pc");
    box.attr("width", px + pc.node().getComputedTextLength() + 2 - boxX);
});
</script>
</body>
</html>
